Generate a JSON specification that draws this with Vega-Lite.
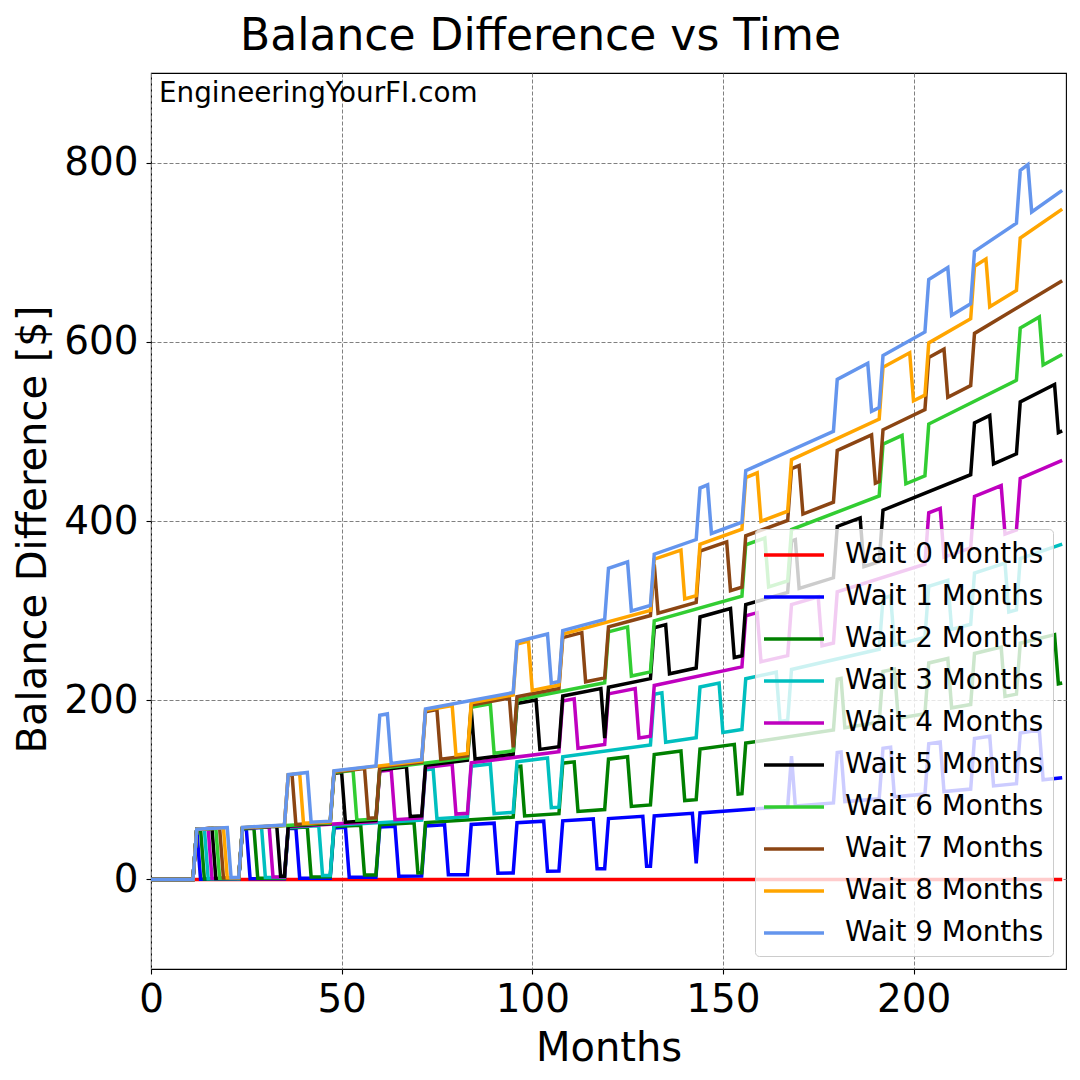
{
  "$schema": "https://vega.github.io/schema/vega-lite/v6.json",
  "width": 915,
  "height": 896,
  "autosize": {"type": "none"},
  "padding": {"left": 151, "top": 73, "right": 14, "bottom": 111},
  "background": "white",
  "config": {
    "font": "DejaVu Sans",
    "view": {"stroke": "black", "strokeWidth": 1.1},
    "axis": {
      "domain": false,
      "tickColor": "black",
      "tickSize": 5,
      "tickWidth": 1.1,
      "labelColor": "black",
      "titleColor": "black",
      "labelFontSize": 38.9,
      "titleFontSize": 40,
      "titleFontWeight": "normal",
      "labelFlush": false,
      "grid": true,
      "gridColor": "#808080",
      "gridDash": [4, 2],
      "gridWidth": 1,
      "gridOpacity": 1
    }
  },
  "title": {
    "text": "Balance Difference vs Time",
    "fontSize": 44,
    "fontWeight": "normal",
    "color": "black",
    "anchor": "middle",
    "baseline": "alphabetic",
    "dx": -68,
    "dy": 44,
    "offset": 23
  },
  "layer": [
    {
      "data": {
        "values": [
          {"w":0,"m":0,"v":0},{"w":0,"m":239,"v":0},
          {"w":1,"m":0,"v":0},{"w":1,"m":11,"v":0},{"w":1,"m":12,"v":56},{"w":1,"m":13,"v":0.2},{"w":1,"m":23,"v":0.2},{"w":1,"m":24,"v":56.2},{"w":1,"m":25,"v":56.5},{"w":1,"m":26,"v":0.7},{"w":1,"m":35,"v":0.7},{"w":1,"m":36,"v":56.7},{"w":1,"m":38,"v":57.2},{"w":1,"m":39,"v":1.4},{"w":1,"m":47,"v":1.4},{"w":1,"m":48,"v":57.4},{"w":1,"m":51,"v":58.1},{"w":1,"m":52,"v":2.4},{"w":1,"m":59,"v":2.4},{"w":1,"m":60,"v":58.5},{"w":1,"m":64,"v":59.4},{"w":1,"m":65,"v":3.6},{"w":1,"m":71,"v":3.7},{"w":1,"m":72,"v":59.7},{"w":1,"m":77,"v":60.9},{"w":1,"m":78,"v":5.2},{"w":1,"m":83,"v":5.3},{"w":1,"m":84,"v":61.3},{"w":1,"m":90,"v":62.8},{"w":1,"m":91,"v":7.0},{"w":1,"m":95,"v":7.2},{"w":1,"m":96,"v":63.2},{"w":1,"m":103,"v":65.0},{"w":1,"m":104,"v":9.2},{"w":1,"m":107,"v":9.3},{"w":1,"m":108,"v":65.4},{"w":1,"m":116,"v":67.5},{"w":1,"m":117,"v":11.8},{"w":1,"m":119,"v":11.9},{"w":1,"m":120,"v":67.9},{"w":1,"m":129,"v":70.4},{"w":1,"m":130,"v":14.7},{"w":1,"m":131,"v":14.7},{"w":1,"m":132,"v":70.8},{"w":1,"m":142,"v":73.7},{"w":1,"m":143,"v":18.0},{"w":1,"m":144,"v":74.1},{"w":1,"m":167,"v":81.2},{"w":1,"m":168,"v":137.5},{"w":1,"m":169,"v":82.0},{"w":1,"m":179,"v":85.4},{"w":1,"m":180,"v":141.7},{"w":1,"m":181,"v":142.3},{"w":1,"m":182,"v":86.9},{"w":1,"m":191,"v":90.0},{"w":1,"m":192,"v":146.4},{"w":1,"m":194,"v":147.6},{"w":1,"m":195,"v":92.2},{"w":1,"m":203,"v":95.2},{"w":1,"m":204,"v":151.5},{"w":1,"m":207,"v":153.4},{"w":1,"m":208,"v":98.0},{"w":1,"m":215,"v":100.8},{"w":1,"m":216,"v":157.2},{"w":1,"m":220,"v":159.7},{"w":1,"m":221,"v":104.3},{"w":1,"m":227,"v":106.9},{"w":1,"m":228,"v":163.3},{"w":1,"m":233,"v":166.6},{"w":1,"m":234,"v":111.2},{"w":1,"m":239,"v":113.5},
          {"w":2,"m":0,"v":0},{"w":2,"m":11,"v":0},{"w":2,"m":12,"v":56},{"w":2,"m":13,"v":56.2},{"w":2,"m":14,"v":0.4},{"w":2,"m":23,"v":0.5},{"w":2,"m":24,"v":56.5},{"w":2,"m":27,"v":57.1},{"w":2,"m":28,"v":1.4},{"w":2,"m":35,"v":1.4},{"w":2,"m":36,"v":57.4},{"w":2,"m":41,"v":58.6},{"w":2,"m":42,"v":2.8},{"w":2,"m":47,"v":2.9},{"w":2,"m":48,"v":58.9},{"w":2,"m":55,"v":60.5},{"w":2,"m":56,"v":4.8},{"w":2,"m":59,"v":4.8},{"w":2,"m":60,"v":60.9},{"w":2,"m":69,"v":63.1},{"w":2,"m":70,"v":7.3},{"w":2,"m":71,"v":7.4},{"w":2,"m":72,"v":63.4},{"w":2,"m":95,"v":69.5},{"w":2,"m":96,"v":125.8},{"w":2,"m":97,"v":126.3},{"w":2,"m":98,"v":70.8},{"w":2,"m":107,"v":73.4},{"w":2,"m":108,"v":129.7},{"w":2,"m":111,"v":131.2},{"w":2,"m":112,"v":75.8},{"w":2,"m":119,"v":77.9},{"w":2,"m":120,"v":134.2},{"w":2,"m":125,"v":136.9},{"w":2,"m":126,"v":81.5},{"w":2,"m":131,"v":83.1},{"w":2,"m":132,"v":139.4},{"w":2,"m":139,"v":143.4},{"w":2,"m":140,"v":88.0},{"w":2,"m":143,"v":89.0},{"w":2,"m":144,"v":145.4},{"w":2,"m":153,"v":150.7},{"w":2,"m":154,"v":95.3},{"w":2,"m":155,"v":95.7},{"w":2,"m":156,"v":152.1},{"w":2,"m":179,"v":166.7},{"w":2,"m":180,"v":223.4},{"w":2,"m":181,"v":224.3},{"w":2,"m":182,"v":169.2},{"w":2,"m":191,"v":175.3},{"w":2,"m":192,"v":232.0},{"w":2,"m":195,"v":234.8},{"w":2,"m":196,"v":179.8},{"w":2,"m":203,"v":184.9},{"w":2,"m":204,"v":241.6},{"w":2,"m":209,"v":246.5},{"w":2,"m":210,"v":191.5},{"w":2,"m":215,"v":195.3},{"w":2,"m":216,"v":252.1},{"w":2,"m":223,"v":259.3},{"w":2,"m":224,"v":204.3},{"w":2,"m":227,"v":206.8},{"w":2,"m":228,"v":263.6},{"w":2,"m":237,"v":273.2},{"w":2,"m":238,"v":218.3},{"w":2,"m":239,"v":219.2},
          {"w":3,"m":0,"v":0},{"w":3,"m":11,"v":0},{"w":3,"m":12,"v":56},{"w":3,"m":14,"v":56.4},{"w":3,"m":15,"v":0.7},{"w":3,"m":23,"v":0.7},{"w":3,"m":24,"v":56.7},{"w":3,"m":29,"v":57.8},{"w":3,"m":30,"v":2.1},{"w":3,"m":35,"v":2.1},{"w":3,"m":36,"v":58.1},{"w":3,"m":44,"v":60.0},{"w":3,"m":45,"v":4.3},{"w":3,"m":47,"v":4.3},{"w":3,"m":48,"v":60.3},{"w":3,"m":71,"v":66.1},{"w":3,"m":72,"v":122.4},{"w":3,"m":74,"v":123.3},{"w":3,"m":75,"v":67.8},{"w":3,"m":83,"v":70.0},{"w":3,"m":84,"v":126.3},{"w":3,"m":89,"v":128.9},{"w":3,"m":90,"v":73.4},{"w":3,"m":95,"v":74.9},{"w":3,"m":96,"v":131.2},{"w":3,"m":104,"v":135.4},{"w":3,"m":105,"v":80.0},{"w":3,"m":107,"v":80.6},{"w":3,"m":108,"v":136.9},{"w":3,"m":131,"v":150.1},{"w":3,"m":132,"v":206.7},{"w":3,"m":134,"v":208.3},{"w":3,"m":135,"v":153.2},{"w":3,"m":143,"v":158.2},{"w":3,"m":144,"v":214.8},{"w":3,"m":149,"v":219.1},{"w":3,"m":150,"v":164.0},{"w":3,"m":155,"v":167.3},{"w":3,"m":156,"v":224.0},{"w":3,"m":164,"v":231.2},{"w":3,"m":165,"v":176.2},{"w":3,"m":167,"v":177.6},{"w":3,"m":168,"v":234.3},{"w":3,"m":191,"v":256.8},{"w":3,"m":192,"v":313.8},{"w":3,"m":194,"v":316.4},{"w":3,"m":195,"v":261.6},{"w":3,"m":203,"v":270.1},{"w":3,"m":204,"v":327.2},{"w":3,"m":209,"v":333.8},{"w":3,"m":210,"v":279.1},{"w":3,"m":215,"v":284.7},{"w":3,"m":216,"v":341.9},{"w":3,"m":224,"v":353.0},{"w":3,"m":225,"v":298.4},{"w":3,"m":227,"v":300.8},{"w":3,"m":228,"v":358.0},{"w":3,"m":239,"v":374.1},
          {"w":4,"m":0,"v":0},{"w":4,"m":11,"v":0},{"w":4,"m":12,"v":56},{"w":4,"m":15,"v":56.7},{"w":4,"m":16,"v":0.9},{"w":4,"m":23,"v":0.9},{"w":4,"m":24,"v":56.9},{"w":4,"m":31,"v":58.5},{"w":4,"m":32,"v":2.8},{"w":4,"m":35,"v":2.8},{"w":4,"m":36,"v":58.8},{"w":4,"m":59,"v":64.5},{"w":4,"m":60,"v":120.7},{"w":4,"m":63,"v":122.2},{"w":4,"m":64,"v":66.7},{"w":4,"m":71,"v":68.6},{"w":4,"m":72,"v":124.8},{"w":4,"m":79,"v":128.4},{"w":4,"m":80,"v":72.9},{"w":4,"m":83,"v":73.8},{"w":4,"m":84,"v":130.1},{"w":4,"m":107,"v":142.6},{"w":4,"m":108,"v":199.2},{"w":4,"m":111,"v":201.6},{"w":4,"m":112,"v":146.4},{"w":4,"m":119,"v":150.5},{"w":4,"m":120,"v":207.1},{"w":4,"m":127,"v":213.0},{"w":4,"m":128,"v":157.8},{"w":4,"m":131,"v":159.7},{"w":4,"m":132,"v":216.4},{"w":4,"m":155,"v":237.2},{"w":4,"m":156,"v":294.1},{"w":4,"m":159,"v":297.7},{"w":4,"m":160,"v":242.9},{"w":4,"m":167,"v":249.7},{"w":4,"m":168,"v":306.7},{"w":4,"m":175,"v":315.4},{"w":4,"m":176,"v":260.7},{"w":4,"m":179,"v":263.8},{"w":4,"m":180,"v":320.9},{"w":4,"m":203,"v":351.8},{"w":4,"m":204,"v":409.2},{"w":4,"m":207,"v":414.1},{"w":4,"m":208,"v":359.7},{"w":4,"m":215,"v":369.9},{"w":4,"m":216,"v":427.4},{"w":4,"m":223,"v":439.5},{"w":4,"m":224,"v":385.3},{"w":4,"m":227,"v":389.9},{"w":4,"m":228,"v":447.5},{"w":4,"m":239,"v":467.6},
          {"w":5,"m":0,"v":0},{"w":5,"m":11,"v":0},{"w":5,"m":12,"v":56},{"w":5,"m":16,"v":56.9},{"w":5,"m":17,"v":1.1},{"w":5,"m":23,"v":1.2},{"w":5,"m":24,"v":57.2},{"w":5,"m":33,"v":59.3},{"w":5,"m":34,"v":3.5},{"w":5,"m":35,"v":3.5},{"w":5,"m":36,"v":59.5},{"w":5,"m":47,"v":62.2},{"w":5,"m":48,"v":118.4},{"w":5,"m":50,"v":119.4},{"w":5,"m":51,"v":63.9},{"w":5,"m":59,"v":65.9},{"w":5,"m":60,"v":122.2},{"w":5,"m":67,"v":125.7},{"w":5,"m":68,"v":70.2},{"w":5,"m":71,"v":71.0},{"w":5,"m":72,"v":127.3},{"w":5,"m":83,"v":133.0},{"w":5,"m":84,"v":189.5},{"w":5,"m":85,"v":134.3},{"w":5,"m":95,"v":139.8},{"w":5,"m":96,"v":196.3},{"w":5,"m":101,"v":200.3},{"w":5,"m":102,"v":145.1},{"w":5,"m":107,"v":148.0},{"w":5,"m":108,"v":204.6},{"w":5,"m":118,"v":212.9},{"w":5,"m":119,"v":157.8},{"w":5,"m":120,"v":214.4},{"w":5,"m":131,"v":224.1},{"w":5,"m":132,"v":280.9},{"w":5,"m":135,"v":284.3},{"w":5,"m":136,"v":229.5},{"w":5,"m":143,"v":236.0},{"w":5,"m":144,"v":292.9},{"w":5,"m":152,"v":302.4},{"w":5,"m":153,"v":247.6},{"w":5,"m":155,"v":249.6},{"w":5,"m":156,"v":306.6},{"w":5,"m":167,"v":320.4},{"w":5,"m":168,"v":377.7},{"w":5,"m":169,"v":379.2},{"w":5,"m":170,"v":324.7},{"w":5,"m":179,"v":336.6},{"w":5,"m":180,"v":393.9},{"w":5,"m":186,"v":403.5},{"w":5,"m":187,"v":349.1},{"w":5,"m":191,"v":354.7},{"w":5,"m":192,"v":412.1},{"w":5,"m":215,"v":451.7},{"w":5,"m":216,"v":509.5},{"w":5,"m":220,"v":517.7},{"w":5,"m":221,"v":463.8},{"w":5,"m":227,"v":475.0},{"w":5,"m":228,"v":533.0},{"w":5,"m":237,"v":552.4},{"w":5,"m":238,"v":498.7},{"w":5,"m":239,"v":500.6},
          {"w":6,"m":0,"v":0},{"w":6,"m":11,"v":0},{"w":6,"m":12,"v":56},{"w":6,"m":17,"v":57.1},{"w":6,"m":18,"v":1.4},{"w":6,"m":23,"v":1.4},{"w":6,"m":24,"v":57.4},{"w":6,"m":47,"v":62.9},{"w":6,"m":48,"v":119.2},{"w":6,"m":53,"v":121.6},{"w":6,"m":54,"v":66.1},{"w":6,"m":59,"v":67.4},{"w":6,"m":60,"v":123.7},{"w":6,"m":83,"v":135.5},{"w":6,"m":84,"v":192.1},{"w":6,"m":89,"v":196.0},{"w":6,"m":90,"v":140.7},{"w":6,"m":95,"v":143.6},{"w":6,"m":96,"v":200.2},{"w":6,"m":119,"v":219.4},{"w":6,"m":120,"v":276.3},{"w":6,"m":125,"v":281.8},{"w":6,"m":126,"v":227.0},{"w":6,"m":131,"v":231.6},{"w":6,"m":132,"v":288.5},{"w":6,"m":155,"v":316.2},{"w":6,"m":156,"v":373.5},{"w":6,"m":161,"v":381.0},{"w":6,"m":162,"v":326.5},{"w":6,"m":167,"v":333.1},{"w":6,"m":168,"v":390.4},{"w":6,"m":191,"v":428.0},{"w":6,"m":192,"v":485.7},{"w":6,"m":197,"v":495.5},{"w":6,"m":198,"v":441.5},{"w":6,"m":203,"v":450.4},{"w":6,"m":204,"v":508.2},{"w":6,"m":227,"v":557.1},{"w":6,"m":228,"v":615.3},{"w":6,"m":233,"v":627.7},{"w":6,"m":234,"v":574.2},{"w":6,"m":239,"v":585.8},
          {"w":7,"m":0,"v":0},{"w":7,"m":11,"v":0},{"w":7,"m":12,"v":56},{"w":7,"m":18,"v":57.4},{"w":7,"m":19,"v":1.6},{"w":7,"m":23,"v":1.6},{"w":7,"m":24,"v":57.6},{"w":7,"m":35,"v":60.2},{"w":7,"m":36,"v":116.4},{"w":7,"m":37,"v":116.9},{"w":7,"m":38,"v":61.4},{"w":7,"m":47,"v":63.6},{"w":7,"m":48,"v":119.9},{"w":7,"m":56,"v":123.8},{"w":7,"m":57,"v":68.3},{"w":7,"m":59,"v":68.8},{"w":7,"m":60,"v":125.1},{"w":7,"m":71,"v":130.7},{"w":7,"m":72,"v":187.2},{"w":7,"m":75,"v":189.5},{"w":7,"m":76,"v":134.2},{"w":7,"m":83,"v":138.0},{"w":7,"m":84,"v":194.6},{"w":7,"m":94,"v":202.5},{"w":7,"m":95,"v":147.3},{"w":7,"m":96,"v":203.9},{"w":7,"m":107,"v":213.1},{"w":7,"m":108,"v":269.9},{"w":7,"m":113,"v":275.4},{"w":7,"m":114,"v":220.5},{"w":7,"m":119,"v":224.9},{"w":7,"m":120,"v":281.8},{"w":7,"m":131,"v":294.5},{"w":7,"m":132,"v":351.6},{"w":7,"m":133,"v":297.1},{"w":7,"m":143,"v":309.1},{"w":7,"m":144,"v":366.4},{"w":7,"m":151,"v":376.8},{"w":7,"m":152,"v":322.3},{"w":7,"m":155,"v":326.2},{"w":7,"m":156,"v":383.5},{"w":7,"m":167,"v":400.7},{"w":7,"m":168,"v":458.3},{"w":7,"m":170,"v":461.9},{"w":7,"m":171,"v":407.8},{"w":7,"m":179,"v":421.0},{"w":7,"m":180,"v":478.7},{"w":7,"m":189,"v":496.2},{"w":7,"m":190,"v":442.2},{"w":7,"m":191,"v":444.0},{"w":7,"m":192,"v":501.8},{"w":7,"m":203,"v":524.3},{"w":7,"m":204,"v":582.4},{"w":7,"m":208,"v":591.8},{"w":7,"m":209,"v":538.1},{"w":7,"m":215,"v":551.2},{"w":7,"m":216,"v":609.4},{"w":7,"m":239,"v":668.0},
          {"w":8,"m":0,"v":0},{"w":8,"m":11,"v":0},{"w":8,"m":12,"v":56},{"w":8,"m":19,"v":57.6},{"w":8,"m":20,"v":1.8},{"w":8,"m":23,"v":1.8},{"w":8,"m":24,"v":57.8},{"w":8,"m":35,"v":60.4},{"w":8,"m":36,"v":116.7},{"w":8,"m":39,"v":118.1},{"w":8,"m":40,"v":62.6},{"w":8,"m":47,"v":64.3},{"w":8,"m":48,"v":120.6},{"w":8,"m":71,"v":132.2},{"w":8,"m":72,"v":188.7},{"w":8,"m":79,"v":194.1},{"w":8,"m":80,"v":138.8},{"w":8,"m":83,"v":140.5},{"w":8,"m":84,"v":197.1},{"w":8,"m":95,"v":205.9},{"w":8,"m":96,"v":262.7},{"w":8,"m":99,"v":265.9},{"w":8,"m":100,"v":211.0},{"w":8,"m":107,"v":217.0},{"w":8,"m":108,"v":273.8},{"w":8,"m":131,"v":300.2},{"w":8,"m":132,"v":357.4},{"w":8,"m":139,"v":367.5},{"w":8,"m":140,"v":313.0},{"w":8,"m":143,"v":316.7},{"w":8,"m":144,"v":374.0},{"w":8,"m":155,"v":390.8},{"w":8,"m":156,"v":448.3},{"w":8,"m":159,"v":453.7},{"w":8,"m":160,"v":399.6},{"w":8,"m":167,"v":410.9},{"w":8,"m":168,"v":468.5},{"w":8,"m":191,"v":513.6},{"w":8,"m":192,"v":571.6},{"w":8,"m":199,"v":587.8},{"w":8,"m":200,"v":534.2},{"w":8,"m":203,"v":540.6},{"w":8,"m":204,"v":598.8},{"w":8,"m":215,"v":625.7},{"w":8,"m":216,"v":684.2},{"w":8,"m":219,"v":692.4},{"w":8,"m":220,"v":639.2},{"w":8,"m":227,"v":657.3},{"w":8,"m":228,"v":715.9},{"w":8,"m":239,"v":748.1},
          {"w":9,"m":0,"v":0},{"w":9,"m":11,"v":0},{"w":9,"m":12,"v":56},{"w":9,"m":20,"v":57.8},{"w":9,"m":21,"v":2.0},{"w":9,"m":23,"v":2.1},{"w":9,"m":24,"v":58.1},{"w":9,"m":35,"v":60.7},{"w":9,"m":36,"v":116.9},{"w":9,"m":41,"v":119.3},{"w":9,"m":42,"v":63.8},{"w":9,"m":47,"v":65.0},{"w":9,"m":48,"v":121.3},{"w":9,"m":59,"v":126.7},{"w":9,"m":60,"v":183.3},{"w":9,"m":62,"v":184.7},{"w":9,"m":63,"v":129.5},{"w":9,"m":71,"v":133.7},{"w":9,"m":72,"v":190.2},{"w":9,"m":95,"v":208.5},{"w":9,"m":96,"v":265.3},{"w":9,"m":104,"v":273.9},{"w":9,"m":105,"v":219.0},{"w":9,"m":107,"v":220.8},{"w":9,"m":108,"v":277.7},{"w":9,"m":119,"v":290.1},{"w":9,"m":120,"v":347.3},{"w":9,"m":125,"v":354.3},{"w":9,"m":126,"v":299.7},{"w":9,"m":131,"v":305.8},{"w":9,"m":132,"v":363.0},{"w":9,"m":143,"v":379.3},{"w":9,"m":144,"v":436.8},{"w":9,"m":146,"v":440.3},{"w":9,"m":147,"v":386.1},{"w":9,"m":155,"v":398.6},{"w":9,"m":156,"v":456.2},{"w":9,"m":179,"v":500.0},{"w":9,"m":180,"v":558.0},{"w":9,"m":188,"v":576.1},{"w":9,"m":189,"v":522.5},{"w":9,"m":191,"v":526.6},{"w":9,"m":192,"v":584.7},{"w":9,"m":203,"v":611.0},{"w":9,"m":204,"v":669.4},{"w":9,"m":209,"v":682.9},{"w":9,"m":210,"v":629.7},{"w":9,"m":215,"v":642.4},{"w":9,"m":216,"v":700.9},{"w":9,"m":227,"v":732.4},{"w":9,"m":228,"v":791.3},{"w":9,"m":230,"v":797.7},{"w":9,"m":231,"v":744.9},{"w":9,"m":239,"v":769.0}
        ]
      },
      "mark": {"type": "line", "strokeWidth": 3.5, "clip": true},
      "encoding": {
        "x": {
          "field": "m",
          "type": "quantitative",
          "scale": {"domain": [0, 240], "nice": false, "zero": false},
          "axis": {"values": [0, 50, 100, 150, 200], "title": "Months", "labelPadding": 6, "titlePadding": 10}
        },
        "y": {
          "field": "v",
          "type": "quantitative",
          "scale": {"domain": [-100, 900], "nice": false},
          "axis": {"values": [0, 200, 400, 600, 800], "title": "Balance Difference [$]", "labelPadding": 8, "titlePadding": 10, "titleY": 456}
        },
        "color": {
          "field": "w",
          "type": "nominal",
          "scale": {
            "domain": [0, 1, 2, 3, 4, 5, 6, 7, 8, 9],
            "range": ["#ff0000", "#0000ff", "#008000", "#00bfbf", "#bf00bf", "#000000", "#32cd32", "#8b4513", "#ffa500", "#6495ed"]
          },
          "legend": {
            "title": null,
            "orient": "bottom-right",
            "offset": 13,
            "fillColor": "rgba(255,255,255,0.8)",
            "strokeColor": "#cccccc",
            "cornerRadius": 4,
            "padding": 9,
            "symbolType": "M-2,0L2,0",
            "symbolSize": 900,
            "symbolStrokeWidth": 3.5,
            "symbolOffset": 13,
            "labelFontSize": 27.8,
            "labelColor": "black",
            "labelLimit": 400,
            "labelOffset": 34,
            "rowPadding": 11,
            "labelExpr": "'Wait ' + datum.label + ' Months'"
          }
        }
      }
    },
    {
      "data": {"values": [{"t": "EngineeringYourFI.com"}]},
      "mark": {"type": "text", "align": "left", "baseline": "top", "fontSize": 27.8, "dx": 8, "dy": 7, "color": "black"},
      "encoding": {
        "x": {"datum": 0, "type": "quantitative"},
        "y": {"datum": 900, "type": "quantitative"},
        "text": {"field": "t"}
      }
    }
  ]
}
